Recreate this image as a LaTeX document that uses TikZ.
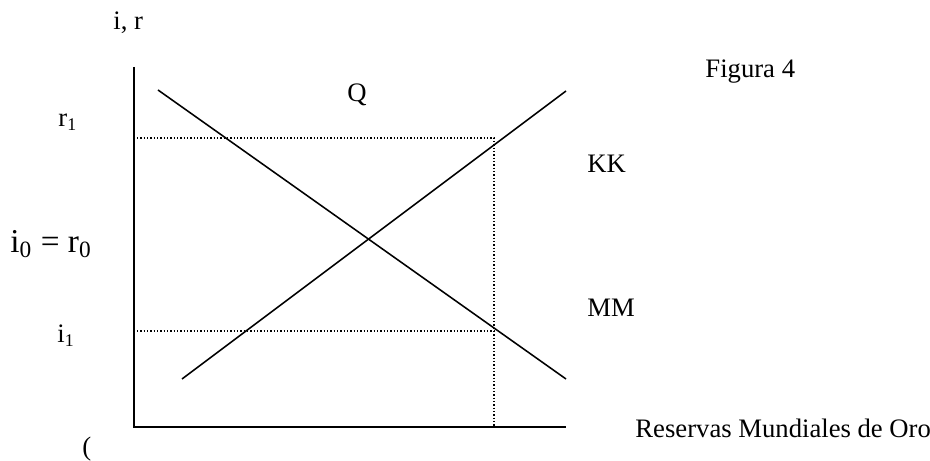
\documentclass[tikz,border=0pt]{standalone}
\usepackage{fontspec}
\setmainfont{Liberation Serif}
\usepackage{tikz}
\usetikzlibrary{positioning, calc}
\definecolor{figink}{HTML}{000000}

\begin{document}
\begin{tikzpicture}[
  x=0.45pt, y=-0.45pt,
  every node/.style={inner sep=0pt, anchor=base west, text=figink, font=\fontsize{12}{14}\selectfont},
  axisline/.style={draw=figink, line width=0.95pt},
  curveline/.style={draw=figink, line width=0.7pt},
  guideline/.style={draw=figink, line width=0.5pt, dash pattern=on 0.6pt off 0.9pt}
]
\useasboundingbox (0,0) rectangle (930,461);

% axes
\coordinate (ytop) at (134,67);
\coordinate (orig) at (134,427);
\coordinate (xend) at (566,427);
\draw[axisline] (ytop) -- (orig) -- (xend);

% curves
\coordinate (mmA) at (158,90);
\coordinate (mmB) at (566,379);
\coordinate (kkA) at (182,379);
\coordinate (kkB) at (566,91);
\draw[curveline] (mmA) -- (mmB);
\draw[curveline] (kkA) -- (kkB);

% dotted guides
\coordinate (rA) at (137,138);
\coordinate (rB) at (494,138);
\coordinate (iA) at (137,331);
\coordinate (iB) at (494,331);
\coordinate (xB) at (494,427);
\draw[guideline] (rA) -- (rB) -- (xB);
\draw[guideline] (iA) -- (iB);

% labels
\node (lblIR) at (113,30) {i, r};
\node (lblRone) at (58,127) {r\textsubscript{1}};
\node[font=\fontsize{15}{18}\selectfont] (lblIzero) at (10,253) {i\textsubscript{0} = r\textsubscript{0}};
\node (lblIone) at (57,343) {i\textsubscript{1}};
\node (lblOrig) at (82,455) {(};
\node (lblQ) at (347,102) {Q};
\node (lblFig) at (705,78) {Figura 4};
\node (lblKK) at (587,173) {KK};
\node (lblMM) at (587,317) {MM};
\node (lblRes) at (635,437) {Reservas Mundiales de Oro};
\end{tikzpicture}
\end{document}
